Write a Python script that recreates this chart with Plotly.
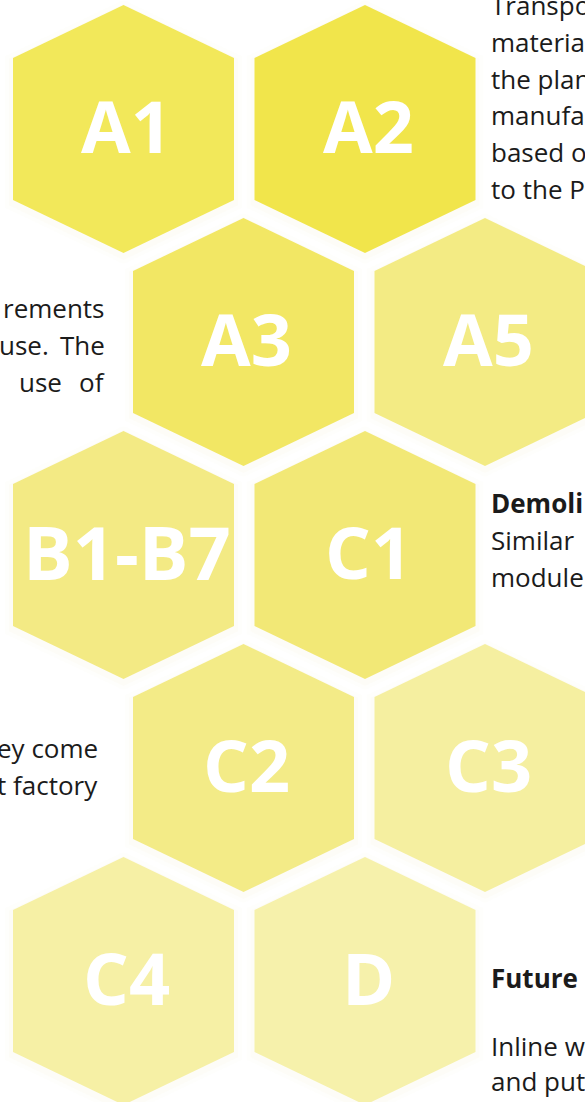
import plotly.graph_objects as go

# ---- data ----
hex_labels = ["A1", "A2", "A3", "A5", "B1-B7", "C1", "C2", "C3", "C4", "D"]
hex_rows = [0, 0, 1, 1, 2, 2, 3, 3, 4, 4]
hex_cols = [0, 1, 0, 1, 0, 1, 0, 1, 0, 1]
hex_colors = ["#F2E85A", "#F1E54B", "#F2E764", "#F3EB84", "#F3EA84",
              "#F2E876", "#F3EB87", "#F5EFA0", "#F6F0A5", "#F6F1AB"]

right_top_lines = ["Transpo", "materia", "the plan", "manufa", "based o", "to the P"]
left_mid_lines = [["rements"], ["use.", "The"], ["use", "of"]]   # justified lines, words
left_low_lines = ["ey come", "t factory"]
demol_title = "Demoli"
demol_lines = ["Similar", "module"]
future_title = "Future"
future_lines = ["Inline w", "and put"]

# ---- geometry / style ----
W, H = 585, 1102
HW, HH, HE = 110.5, 124, 71     # half width, half height, half vertical edge
X0, Y0, DX, DY, OFF = 123.5, 129, 241.5, 213, 120
TXT = "#1b1b1b"
BODY_FONT = "Open Sans, Noto Sans, sans-serif"
BODY_SIZE = 26
LINE = 36.8
MID = 9  # baseline -> annotation middle shift
# right edges of words in justified lines
JUST_RIGHTS = [[107], [51, 107], [64, 107]]

def hex_xy(cx, cy, grow=0.0):
    hw, hh, he = HW + grow, HH + grow, HE + grow * 0.58
    xs = [cx, cx + hw, cx + hw, cx, cx - hw, cx - hw, cx]
    ys = [cy - hh, cy - he, cy + he, cy + hh, cy + he, cy - he, cy - hh]
    return xs, ys

fig = go.Figure()
centers = []
for r, c in zip(hex_rows, hex_cols):
    centers.append((X0 + DX * c + OFF * (r % 2), Y0 + DY * r))

# soft glow
for (cx, cy) in centers:
    for g, a in [(8, 0.035), (4, 0.05)]:
        xs, ys = hex_xy(cx, cy + 3, g)
        fig.add_trace(go.Scatter(x=xs, y=ys, mode="lines", fill="toself",
                                 fillcolor=f"rgba(235,225,160,{a})",
                                 line=dict(width=0), hoverinfo="skip",
                                 showlegend=False))

for (cx, cy), col in zip(centers, hex_colors):
    xs, ys = hex_xy(cx, cy)
    fig.add_trace(go.Scatter(x=xs, y=ys, mode="lines", fill="toself",
                             fillcolor=col, line=dict(width=0),
                             hoverinfo="skip", showlegend=False))

annotations = []
for (cx, cy), lab in zip(centers, hex_labels):
    size = 74 if len(lab) > 3 else 72
    annotations.append(dict(x=cx + 3, y=cy - 4, text=lab, showarrow=False,
                            xanchor="center", yanchor="middle",
                            font=dict(family="Open Sans, sans-serif", size=size,
                                      color="white", weight="bold")))

def body(x, y, t, anchor):
    annotations.append(dict(x=x, y=y, text=t, showarrow=False,
                            xanchor=anchor, yanchor="middle",
                            font=dict(family=BODY_FONT, size=BODY_SIZE, color=TXT)))

def add_lines(lines, x, base0, anchor, bold_first=False, spacing=LINE):
    for i, t in enumerate(lines):
        b = base0 + spacing * i
        txt = f"<b>{t}</b>" if (bold_first and i == 0) else t
        body(x, b - MID, txt, anchor)

add_lines(right_top_lines, 489, 14, "left")
for i, (words, rights) in enumerate(zip(left_mid_lines, JUST_RIGHTS)):
    for w, rx in zip(words, rights):
        body(rx, 317 + LINE * i - MID, w, "right")
add_lines(left_low_lines, 100, 757, "right")
add_lines([demol_title] + demol_lines, 489, 512, "left", bold_first=True)
add_lines([future_title], 489, 987, "left", bold_first=True)
add_lines(future_lines, 489, 1055, "left", spacing=35)

fig.update_layout(
    width=W, height=H, margin=dict(l=0, r=0, t=0, b=0),
    paper_bgcolor="white", plot_bgcolor="white",
    xaxis=dict(range=[0, W], visible=False, fixedrange=True),
    yaxis=dict(range=[H, 0], visible=False, fixedrange=True),
    annotations=annotations, showlegend=False,
)
fig.write_html("out.html", config={"displayModeBar": False},
               post_script="document.body.style.margin='0';document.body.style.overflow='hidden';")
